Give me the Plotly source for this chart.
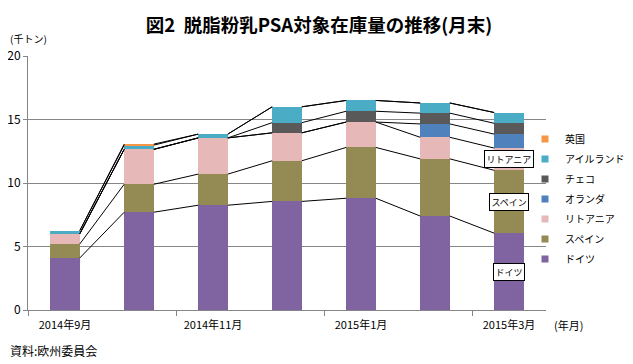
import plotly.graph_objects as go

categories = ["2014年9月", "2014年10月", "2014年11月", "2014年12月", "2015年1月", "2015年2月", "2015年3月"]
germany = [4.1, 7.7, 8.25, 8.55, 8.8, 7.4, 6.05]
spain = [1.1, 2.2, 2.45, 3.2, 4.0, 4.5, 4.95]
lithuania = [0.8, 2.75, 2.85, 2.2, 2.0, 1.7, 1.75]
netherlands = [0, 0, 0, 0, 0, 1.05, 1.1]
czech = [0, 0, 0, 0.8, 0.85, 0.85, 0.85]
ireland = [0.25, 0.33, 0.3, 1.25, 0.85, 0.8, 0.85]
uk = [0, 0.08, 0, 0, 0, 0, 0]

series_names = ["ドイツ", "スペイン", "リトアニア", "オランダ", "チェコ", "アイルランド", "英国"]
series_values = [germany, spain, lithuania, netherlands, czech, ireland, uk]
colors = ["#8064A2", "#948A54", "#E6B9B8", "#4F81BD", "#595959", "#4BACC6", "#F79646"]

FONT = "Noto Sans CJK JP"
BAR_W = 0.4
OFF = 8  # page body margin
W, H = 633 - OFF, 364 - OFF
L, R, T, B = 28 - OFF, 546 - OFF, 56 - OFF, 310 - OFF  # plot area in figure pixels
PW, PH = R - L, B - T


def px(x):
    return (x - OFF - L) / PW


def py(y):
    return (B - (y - OFF)) / PH


fig = go.Figure()
for name, vals, col in zip(series_names, series_values, colors):
    fig.add_trace(go.Bar(x=categories, y=vals, name=name, marker_color=col,
                         marker_line_width=0, showlegend=False, hoverinfo="skip"))
# legend entries (small square markers), top of stack listed first
for name, col in reversed(list(zip(series_names, colors))):
    fig.add_trace(go.Scatter(x=[None], y=[None], mode="markers", name=name, legendgroup=name,
                             marker=dict(symbol="square", size=7, color=col)))

# series lines connecting segment tops
n = len(categories)
cum = [0.0] * n
tops = []
for vals in series_values:
    cum = [c + v for c, v in zip(cum, vals)]
    tops.append(list(cum))
shapes = []
for t in tops:
    for i in range(n - 1):
        shapes.append(dict(type="line", xref="x", yref="y",
                           x0=i + BAR_W / 2, y0=t[i], x1=i + 1 - BAR_W / 2, y1=t[i + 1],
                           line=dict(color="#000000", width=1), layer="above"))

# data labels on last bar
annotations = []
last = n - 1
for idx in [2, 1, 0]:
    base = tops[idx - 1][last] if idx > 0 else 0
    mid = (base + tops[idx][last]) / 2
    annotations.append(dict(x=last, y=mid, xref="x", yref="y", text=series_names[idx],
                            showarrow=False, bgcolor="white", bordercolor="black",
                            borderwidth=1, borderpad=1.5,
                            font=dict(family=FONT, size=9, color="black")))
annotations += [
    dict(text="(千トン)", x=px(8), y=py(39), xref="paper", yref="paper", xanchor="left",
         yanchor="middle", showarrow=False, font=dict(size=10)),
    dict(text="(年月)", x=px(552), y=py(325), xref="paper", yref="paper", xanchor="left",
         yanchor="middle", showarrow=False, font=dict(size=11)),
    dict(text="資料:欧州委員会", x=px(8), y=py(350), xref="paper", yref="paper", xanchor="left",
         yanchor="middle", showarrow=False, font=dict(size=12)),
]

fig.update_layout(
    width=W, height=H,
    margin=dict(l=L, r=W - R, t=T, b=H - B, autoexpand=False),
    paper_bgcolor="white", plot_bgcolor="white",
    barmode="stack", bargap=1 - BAR_W,
    font=dict(family=FONT, size=12, color="black"),
    title=dict(text="<b>図2  脱脂粉乳PSA対象在庫量の推移(月末)</b>", xref="container",
               x=(319 - OFF) / W, xanchor="center",
               y=1 - (26 - OFF) / H, yanchor="middle",
               font=dict(size=18.5, family=FONT, color="black")),
    xaxis=dict(type="category", categoryorder="array", categoryarray=categories,
               tickmode="linear", tick0=0, dtick=2, tickson="boundaries",
               ticks="outside", ticklen=5, tickcolor="#868686",
               showline=True, linecolor="#868686", linewidth=1, showgrid=False,
               tickfont=dict(size=11), range=[-0.5, n - 0.5], automargin=False,
               ticklabelstandoff=5),
    yaxis=dict(range=[0, 20], dtick=5, showgrid=True, gridcolor="#868686", gridwidth=1,
               showline=True, linecolor="#868686", linewidth=1,
               ticks="outside", ticklen=4, tickcolor="#868686", zeroline=False,
               tickfont=dict(size=12), automargin=False, ticklabelstandoff=0),
    legend=dict(x=px(525), xanchor="left", y=py(124.5), yanchor="top",
                traceorder="grouped",
                bgcolor="rgba(0,0,0,0)", font=dict(size=10), tracegroupgap=1),
    shapes=shapes,
    annotations=annotations,
)
fig.write_html("out.html")
